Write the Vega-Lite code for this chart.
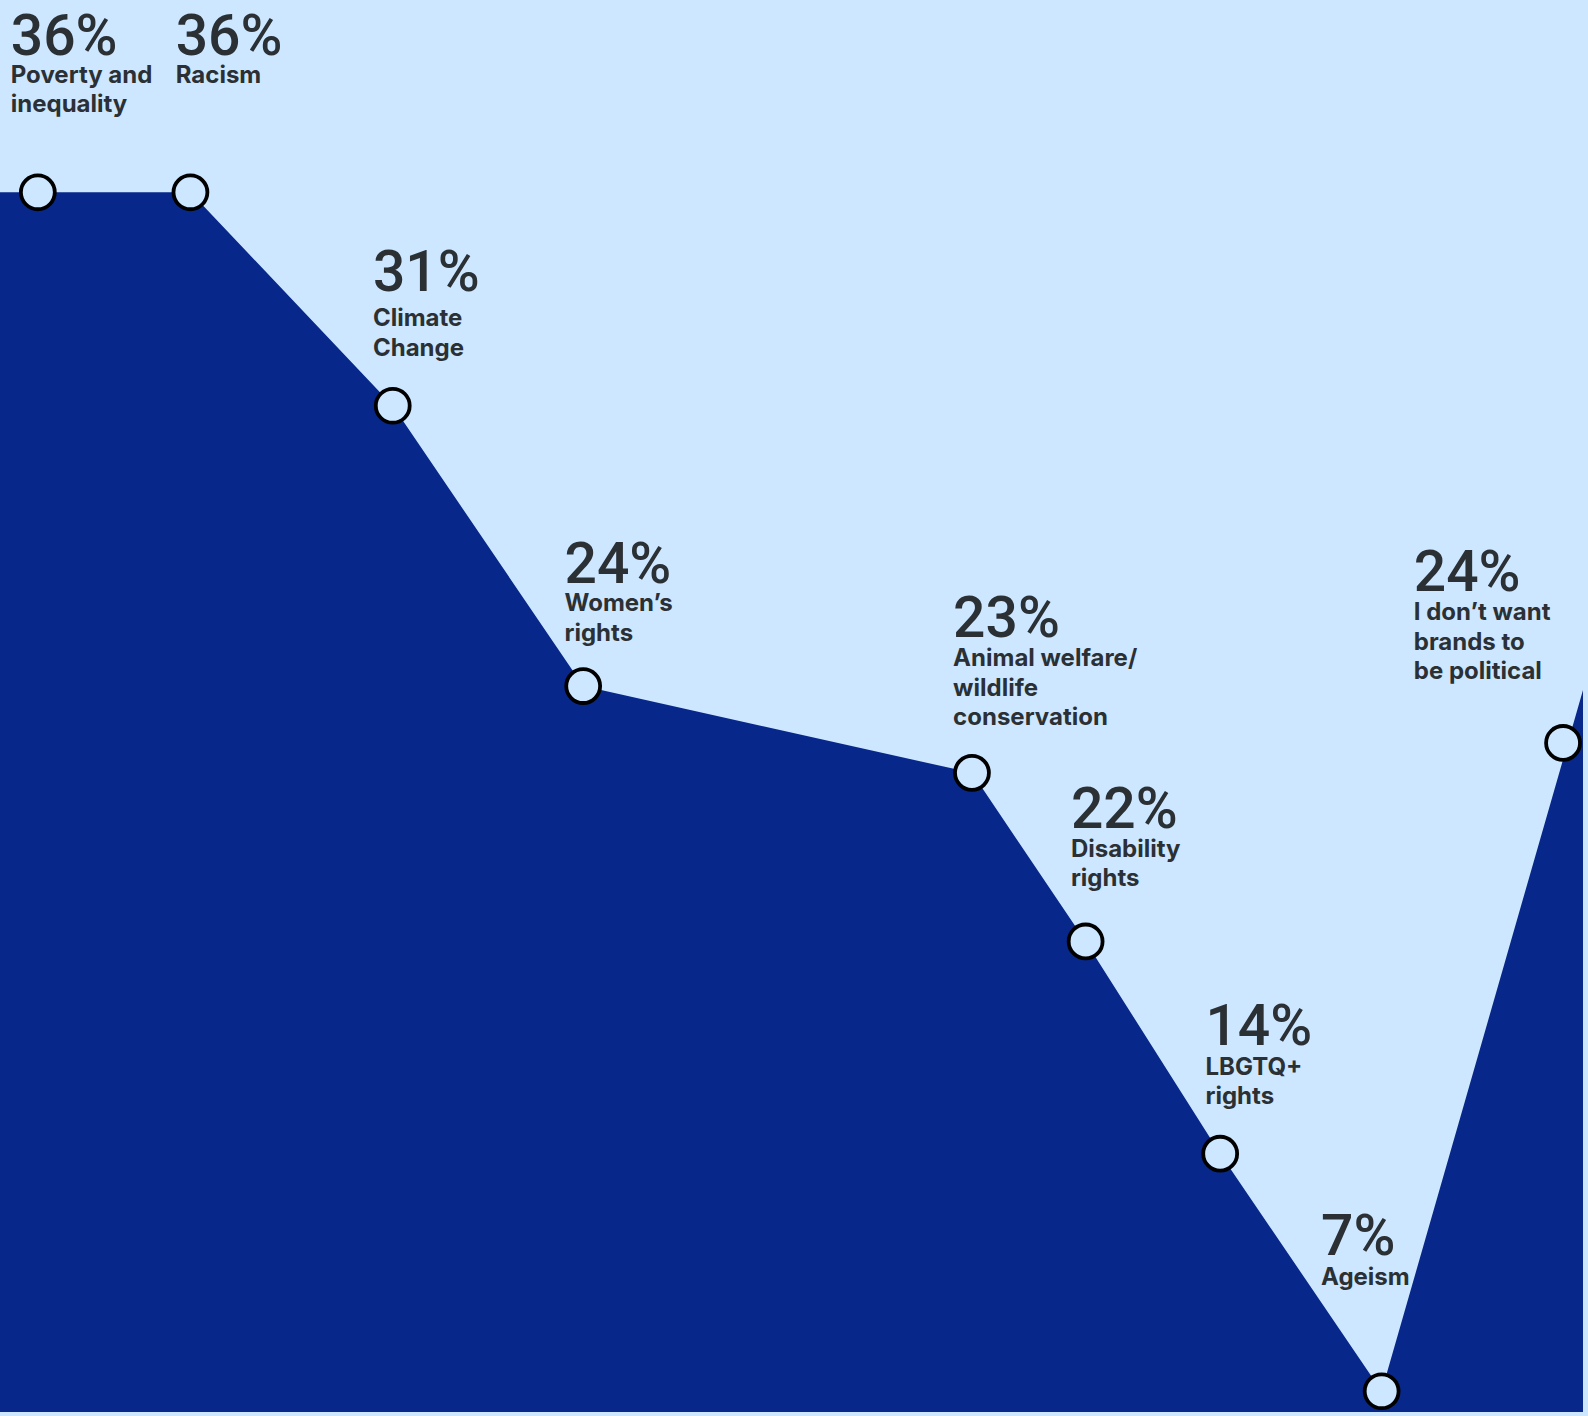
{
  "$schema": "https://vega.github.io/schema/vega-lite/v6.json",
  "autosize": {"type": "fit", "contains": "padding"},
  "width": 1588,
  "height": 1416,
  "padding": 0,
  "background": "#cce7ff",
  "config": {"view": {"stroke": null}},
  "datasets": {
    "outline": [
      {"pos": -1, "level": 35.97},
      {"pos": 12.03, "level": 35.97},
      {"pos": 24.81, "level": 30.83},
      {"pos": 36.84, "level": 24.08},
      {"pos": 61.4, "level": 21.99},
      {"pos": 68.58, "level": 17.93},
      {"pos": 77.08, "level": 12.82},
      {"pos": 87.28, "level": 7.1},
      {"pos": 101, "level": 25.31}
    ],
    "issues": [
      {"issue": "Poverty and\ninequality", "share": 0.36, "pos": 2.39, "level": 35.97, "labelPos": 0.68, "pctLevel": 39.28, "labelLevel": 38.61},
      {"issue": "Racism", "share": 0.36, "pos": 12.03, "level": 35.97, "labelPos": 11.1, "pctLevel": 39.28, "labelLevel": 38.61},
      {"issue": "Climate\nChange", "share": 0.31, "pos": 24.81, "level": 30.83, "labelPos": 23.56, "pctLevel": 33.59, "labelLevel": 32.75},
      {"issue": "Women’s\nrights", "share": 0.24, "pos": 36.84, "level": 24.08, "labelPos": 35.66, "pctLevel": 26.55, "labelLevel": 25.88},
      {"issue": "Animal welfare/\nwildlife\nconservation", "share": 0.23, "pos": 61.4, "level": 21.99, "labelPos": 60.21, "pctLevel": 25.26, "labelLevel": 24.56},
      {"issue": "Disability\nrights", "share": 0.22, "pos": 68.58, "level": 17.93, "labelPos": 67.65, "pctLevel": 20.67, "labelLevel": 19.97},
      {"issue": "LBGTQ+\nrights", "share": 0.14, "pos": 77.08, "level": 12.82, "labelPos": 76.15, "pctLevel": 15.44, "labelLevel": 14.72},
      {"issue": "Ageism", "share": 0.07, "pos": 87.28, "level": 7.1, "labelPos": 83.45, "pctLevel": 10.37, "labelLevel": 9.67},
      {"issue": "I don’t want\nbrands to\nbe political", "share": 0.24, "pos": 98.74, "level": 22.71, "labelPos": 89.31, "pctLevel": 26.36, "labelLevel": 25.67}
    ]
  },
  "layer": [
    {
      "data": {"name": "outline"},
      "mark": {"type": "area", "color": "#07288a", "interpolate": "linear", "clip": true},
      "encoding": {
        "x": {"field": "pos", "type": "quantitative", "scale": {"domain": [0, 100], "nice": false, "zero": false}, "axis": null},
        "y": {"field": "level", "type": "quantitative", "scale": {"domain": [6.6, 40.6], "nice": false, "zero": false}, "axis": null},
        "y2": {"datum": 5.5}
      }
    },
    {
      "data": {"name": "issues"},
      "mark": {"type": "point", "shape": "circle", "filled": true, "fill": "#cce7ff", "stroke": "#000000", "strokeWidth": 3.8, "size": 1150, "opacity": 1},
      "encoding": {
        "x": {"field": "pos", "type": "quantitative"},
        "y": {"field": "level", "type": "quantitative"}
      }
    },
    {
      "data": {"name": "issues"},
      "mark": {"type": "text", "align": "left", "baseline": "alphabetic", "font": "Roboto", "fontSize": 57, "fontWeight": 500, "color": "#2b3035"},
      "encoding": {
        "x": {"field": "labelPos", "type": "quantitative"},
        "y": {"field": "pctLevel", "type": "quantitative"},
        "text": {"field": "share", "type": "quantitative", "format": ".0%"}
      }
    },
    {
      "data": {"name": "issues"},
      "mark": {"type": "text", "align": "left", "baseline": "alphabetic", "font": "Inter", "fontSize": 24, "fontWeight": 700, "color": "#2b3035", "lineBreak": "\n", "lineHeight": 29.5},
      "encoding": {
        "x": {"field": "labelPos", "type": "quantitative"},
        "y": {"field": "labelLevel", "type": "quantitative"},
        "text": {"field": "issue", "type": "nominal"}
      }
    }
  ]
}
